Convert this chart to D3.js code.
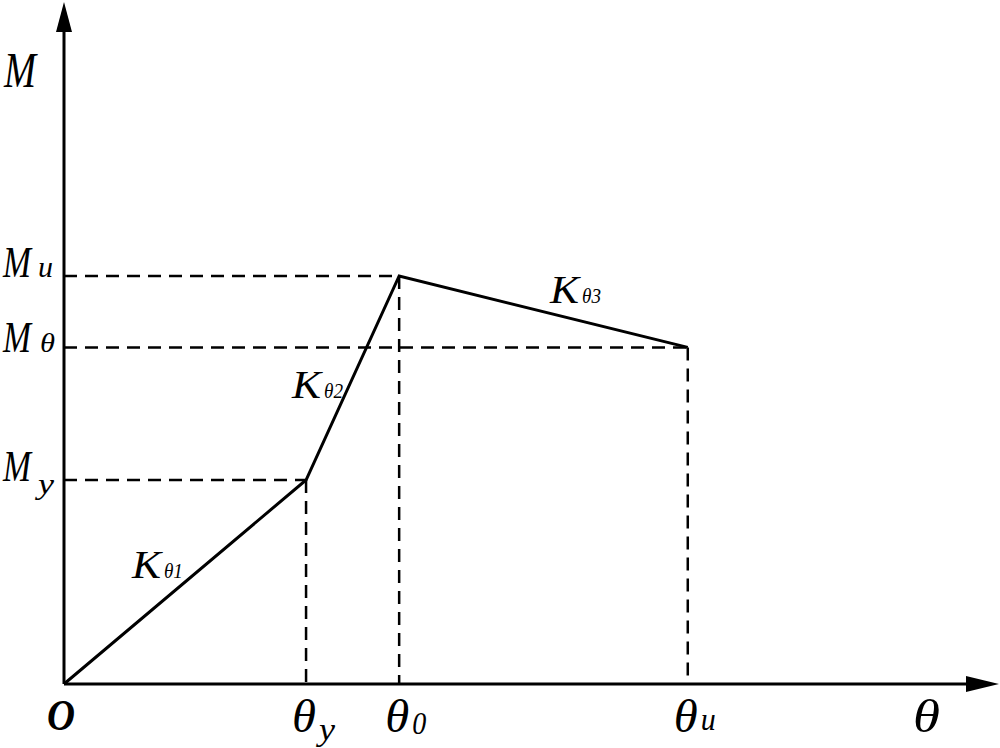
<!DOCTYPE html>
<html>
<head>
<meta charset="utf-8">
<script src="https://cdn.jsdelivr.net/npm/d3@7"></script>
<style>
  body { margin: 0; background: #fff; }
  svg text { font-family: 'Liberation Serif', 'Times New Roman', serif; font-style: italic; fill: #000; }
</style>
</head>
<body>
<div id="chart"></div>
<script>
// rotation values (theta) and moment values
const thetaKeys = ['y', '0', 'u'];
const thetaVals = [2.6, 3.6, 6.7];
const momentKeys = ['y', 'u', 'θ'];
const momentVals = [3.0, 6.0, 4.95];

// the trilinear curve: O -> (θy, My) -> (θ0, Mu) -> (θu, Mθ)
const curveX = [0, 2.6, 3.6, 6.7];
const curveY = [0, 3.0, 6.0, 4.95];

// slope labels, placed at a data position along each segment
const slopeLabels = ['1', '2', '3'];
const slopePos = [[0.73, 1.56], [2.45, 4.2], [5.22, 5.6]];

const width = 1000, height = 748;
const svg = d3.select('#chart').append('svg')
  .attr('width', width)
  .attr('height', height);

const x = d3.scaleLinear().domain([0, 10]).range([64, 995]);
const y = d3.scaleLinear().domain([0, 10]).range([684, 4]);

// Draw the axes with arrow heads
svg.append('line')
  .attr('x1', x(0)).attr('y1', y(0))
  .attr('x2', 970).attr('y2', y(0))
  .attr('stroke', 'black').attr('stroke-width', 3);
svg.append('path')
  .attr('d', 'M999,' + y(0) + 'L966,' + (y(0) - 8) + 'L966,' + (y(0) + 8) + 'Z')
  .attr('fill', 'black');

svg.append('line')
  .attr('x1', x(0)).attr('y1', y(0))
  .attr('x2', x(0)).attr('y2', 30)
  .attr('stroke', 'black').attr('stroke-width', 3);
svg.append('path')
  .attr('d', 'M' + x(0) + ',2L' + (x(0) - 8) + ',32L' + (x(0) + 8) + ',32Z')
  .attr('fill', 'black');

// Dashed guide lines
const dash = '13,8';
for (let i = 1; i < curveX.length; i++) {
  svg.append('line')
    .attr('x1', x(0)).attr('y1', y(curveY[i]))
    .attr('x2', x(curveX[i])).attr('y2', y(curveY[i]))
    .attr('stroke', 'black').attr('stroke-width', 2.5)
    .attr('stroke-dasharray', dash);
  svg.append('line')
    .attr('x1', x(curveX[i])).attr('y1', y(curveY[i]))
    .attr('x2', x(curveX[i])).attr('y2', y(0))
    .attr('stroke', 'black').attr('stroke-width', 2.5)
    .attr('stroke-dasharray', dash);
}

// The curve itself
const line = d3.line().x(d => x(d[0])).y(d => y(d[1]));
svg.append('path')
  .attr('d', line(curveX.map((v, i) => [v, curveY[i]])))
  .attr('fill', 'none')
  .attr('stroke', 'black')
  .attr('stroke-width', 3);

// helper: one piece of text squeezed or stretched to a width
function txt(px, py, str, size, len) {
  let t = svg.append('text')
    .attr('x', px).attr('y', py)
    .attr('font-family', "'Liberation Serif', 'Times New Roman', serif")
    .attr('font-style', 'italic')
    .attr('font-size', size)
    .text(str);
  if (len) {
    t.attr('textLength', len).attr('lengthAdjust', 'spacingAndGlyphs');
  }
  return t;
}

// Axis titles
txt(4, 87, 'M', 50, 32);
txt(913, 732, 'θ', 46, 27);
txt(47, 730, 'O', 44, 28).attr('font-weight', 'bold');

// Moment labels on the y axis
const momentSub = {
  'u': { dx: 35, dy: 0, size: 30, len: 15 },
  'θ': { dx: 37, dy: 0, size: 28, len: 15 },
  'y': { dx: 35, dy: 13, size: 30, len: 16 }
};
momentKeys.forEach((k, i) => {
  let py = y(momentVals[i]) + (k === 'θ' ? 5 : 1);
  txt(3, py, 'M', 44, 28);
  let s = momentSub[k];
  txt(3 + s.dx, py + s.dy, k, s.size, s.len);
});

// Rotation labels under the x axis
const thetaSub = {
  'y': { dy: 10, size: 32, len: 16 },
  '0': { dy: 4, size: 32, len: 14 },
  'u': { dy: 0, size: 32, len: 15 }
};
thetaKeys.forEach((k, i) => {
  let px = x(thetaVals[i]) - 14;
  txt(px, 732, 'θ', 46, 24);
  let s = thetaSub[k];
  txt(px + 27, 732 + s.dy - 2, k, s.size, s.len);
});

// Slope labels
slopeLabels.forEach((k, i) => {
  let px = x(slopePos[i][0]), py = y(slopePos[i][1]);
  txt(px, py, 'K', 40, 29);
  txt(px + 32, py, 'θ' + k, 22, 19);
});
</script>
</body>
</html>
